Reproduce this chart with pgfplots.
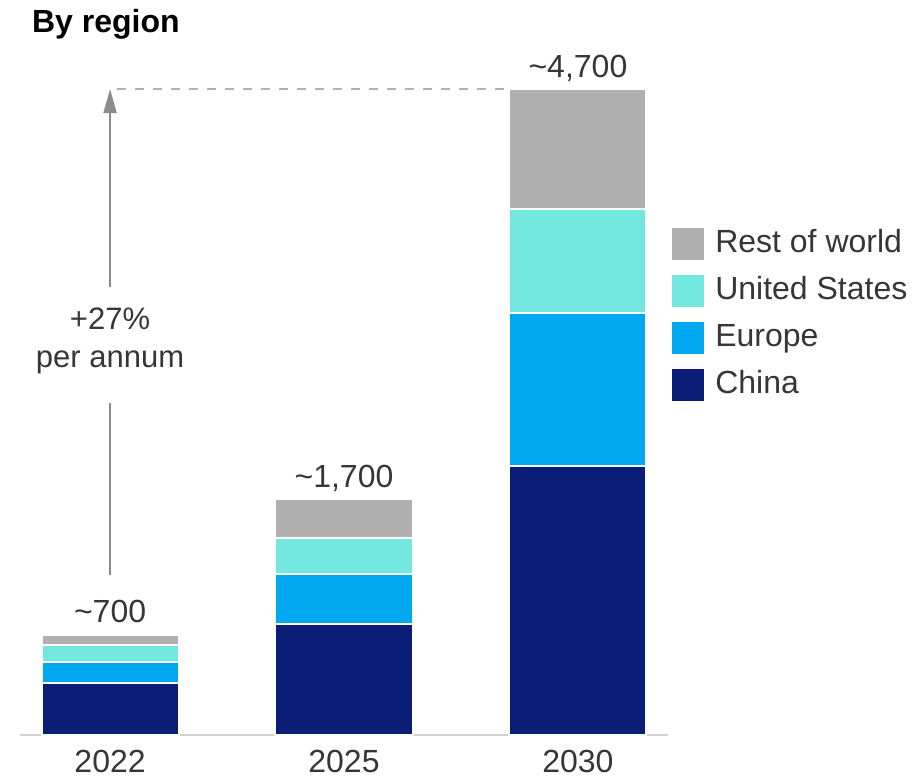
\documentclass[border=0pt]{standalone}
\usepackage{fontspec}
\setmainfont{Liberation Sans}
\usepackage{pgfplots}
\pgfplotsset{compat=1.18}
\usetikzlibrary{arrows.meta}
\definecolor{china}{HTML}{0A1E78}
\definecolor{europe}{HTML}{00A8F0}
\definecolor{usa}{HTML}{72E8E0}
\definecolor{row}{HTML}{B0B0B0}
\definecolor{txt}{HTML}{363636}
\tikzset{toplab/.style={anchor=base, yshift=6pt, font=\fontsize{16}{18}\selectfont, text=txt}}
\begin{document}
\begin{tikzpicture}
\path[use as bounding box] (0pt,0pt) rectangle (459pt,391pt);
\begin{axis}[
  at={(10pt,23.5pt)}, anchor=south west,
  scale only axis, width=324pt, height=323pt,
  xmin=-0.385, xmax=2.385, ymin=0, ymax=4700,
  clip=false,
  ybar stacked, bar width=68.5pt,
  axis x line=bottom, axis y line=none,
  x axis line style={-, draw=black!18, line width=0.8pt},
  xtick={0,1,2}, xticklabels={2022,2025,2030},
  ytick=\empty, major tick length=0pt,
  xticklabel style={font=\fontsize{16}{19}\selectfont, text=txt, yshift=-4pt},
  every axis plot/.append style={draw=white, line width=1pt},
  reverse legend,
  legend cell align=left,
  legend image code/.code={\fill[#1,draw=none] (0pt,-8pt) rectangle (16pt,8pt);},
  legend style={at={(1.006,0.785)}, anchor=north west, draw=none, fill=none,
    inner sep=0pt, row sep=7.5pt,
    font=\fontsize{16}{18}\selectfont, text=txt,
    nodes={inner sep=0pt, text height=10.5pt, text depth=2.5pt},
    /tikz/every odd column/.append style={column sep=5.5pt}},
]
\addplot[fill=china] coordinates {(0,378) (1,808) (2,1957)};
\addlegendentry{China}
\addplot[fill=europe] coordinates {(0,153) (1,363) (2,1113)};
\addlegendentry{Europe}
\addplot[fill=usa] coordinates {(0,124) (1,262) (2,757)};
\addlegendentry{United States}
\addplot[fill=row] coordinates {(0,73) (1,284) (2,873)};
\addlegendentry{Rest of world}
\node[toplab] at (axis cs:0,728) {\textasciitilde700};
\node[toplab] at (axis cs:1,1717) {\textasciitilde1,700};
\node[toplab] at (axis cs:2,4700) {\textasciitilde4,700};
\draw[draw=black!45, line width=1pt] (axis cs:0,1164) -- (axis cs:0,2415);
\draw[draw=black!45, line width=1pt, -{Triangle[length=12pt,width=6.5pt]}] (axis cs:0,3260) -- (axis cs:0,4700);
\draw[black!30, dash pattern=on 4.5pt off 4.5pt, line width=0.8pt] (axis cs:0.03,4700) -- (axis cs:1.7075,4700);
\node[align=center, font=\fontsize{15.5}{19}\selectfont, text=txt] at (axis cs:0,2867) {+27\%\\per annum};
\end{axis}
\node[anchor=base west, font=\bfseries\fontsize{16}{18}\selectfont] at (12.5pt,374.5pt) {By region};
\end{tikzpicture}
\end{document}
